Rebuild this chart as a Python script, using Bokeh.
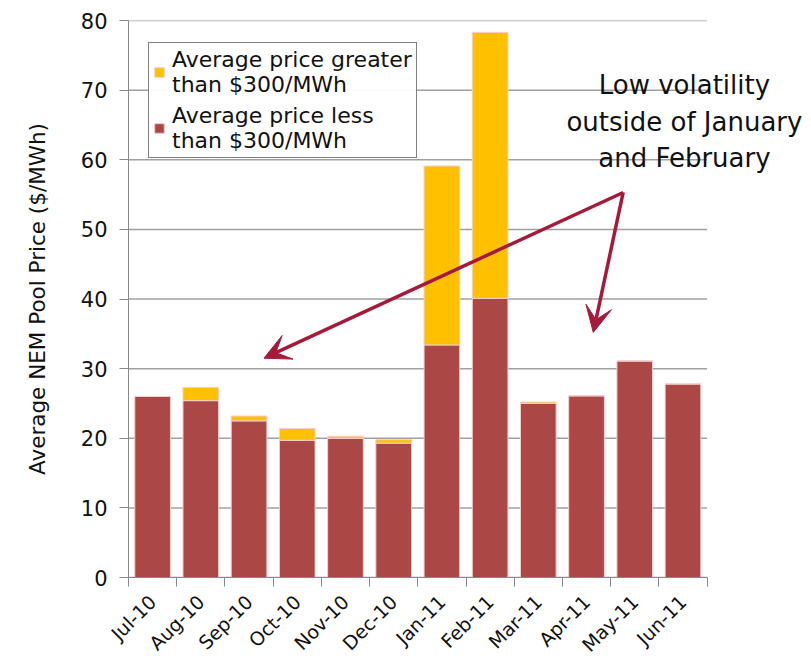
from bokeh.plotting import figure
from bokeh.models import (ColumnDataSource, Legend, LegendItem, Label, Arrow, VeeHead,
                          SingleIntervalTicker, Range1d, LinearAxis, FixedTicker)
from bokeh.embed import file_html
from bokeh.resources import INLINE

months = ["Jul-10", "Aug-10", "Sep-10", "Oct-10", "Nov-10", "Dec-10",
          "Jan-11", "Feb-11", "Mar-11", "Apr-11", "May-11", "Jun-11"]
below_300 = [26.0, 25.4, 22.5, 19.7, 20.0, 19.3, 33.4, 40.1, 25.0, 26.1, 31.1, 27.8]
above_300 = [0.0, 1.9, 0.7, 1.7, 0.3, 0.5, 25.7, 38.2, 0.2, 0.0, 0.0, 0.0]
y_ticks = [0, 10, 20, 30, 40, 50, 60, 70, 80]
spare_slots = 2  # empty room on the right that holds the annotation text

RED = "#AB4745"
YEL = "#FFC000"
ARROW = "#A51A3A"
FONT = "DejaVu Sans"
n = len(months)
centers = [i + 0.5 for i in range(n)]
bounds = list(range(n + 1))

src = ColumnDataSource(dict(pos=centers, below=below_300, above=above_300))

p = figure(x_range=Range1d(0, n + spare_slots), y_range=(0, 80),
           frame_width=675, frame_height=557, output_backend="svg", toolbar_location=None,
           min_border_left=128, min_border_top=20, min_border_right=0, min_border_bottom=80,
           x_axis_location=None)
p.outline_line_color = None

# horizontal gridlines limited to the category area
p.segment(x0=[0] * len(y_ticks), x1=[n] * len(y_ticks), y0=y_ticks, y1=y_ticks,
          line_color="#A0A0A0", line_width=1.5)

r = p.vbar_stack(["below", "above"], x="pos", width=0.74, source=src,
                 color=[RED, YEL], line_color="#F2D0D0", line_width=1)

legend = Legend(items=[LegendItem(label="Average price greater\nthan $300/MWh", renderers=[r[1]]),
                       LegendItem(label="Average price less\nthan $300/MWh", renderers=[r[0]])],
                location=(20, 419))
legend.label_text_font = FONT
legend.label_text_font_size = "22px"
legend.label_text_color = "#111111"
legend.label_text_line_height = 1.2
legend.border_line_color = "black"
legend.border_line_width = 1
legend.glyph_width = 12
legend.glyph_height = 12
legend.padding = 4
legend.spacing = 6
legend.margin = 0
legend.label_standoff = 7
p.add_layout(legend, "center")

p.yaxis.ticker = SingleIntervalTicker(interval=10)
p.yaxis.axis_label = "Average NEM Pool Price ($/MWh)"
p.yaxis.axis_label_text_font = FONT
p.yaxis.axis_label_text_font_style = "normal"
p.yaxis.axis_label_text_font_size = "21.5px"
p.yaxis.axis_label_text_color = "#111111"
p.yaxis.axis_label_standoff = 28
p.yaxis.major_label_text_font = FONT
p.yaxis.major_label_text_font_size = "21px"
p.yaxis.major_label_text_color = "#111111"
p.yaxis.major_label_standoff = 12
p.yaxis.axis_line_color = "#888888"
p.yaxis.major_tick_line_color = "#888888"
p.yaxis.major_tick_out = 9
p.yaxis.major_tick_in = 0
p.yaxis.minor_tick_line_color = None

# axis line with tick marks at the category boundaries
tick_axis = LinearAxis(ticker=FixedTicker(ticks=bounds), bounds=(0, n),
                       axis_line_color="#888888", major_tick_line_color="#888888",
                       major_tick_out=9, major_tick_in=0, minor_tick_line_color=None,
                       major_label_text_font_size="0px", major_label_standoff=0,
                       major_label_text_color=None)
# month labels at the category centres
label_axis = LinearAxis(ticker=FixedTicker(ticks=centers),
                        major_label_overrides={c: m for c, m in zip(centers, months)},
                        axis_line_color=None, major_tick_line_color=None, minor_tick_line_color=None,
                        major_label_orientation=0.785, major_label_text_font=FONT,
                        major_label_text_font_size="19px", major_label_text_color="#111111",
                        major_label_standoff=6)
p.add_layout(tick_axis, "below")
p.add_layout(label_axis, "below")

p.xgrid.grid_line_color = None
p.ygrid.grid_line_color = None

for txt, yv in [("Low volatility", 70.7), ("outside of January", 65.4), ("and February", 60.3)]:
    p.add_layout(Label(x=11.53, y=yv, text=txt, text_align="center", text_baseline="middle",
                       text_font=FONT, text_font_size="26px", text_color="#111111"))

for xe, ye in [(2.81, 31.5), (9.64, 35.2)]:
    p.add_layout(Arrow(x_start=10.26, y_start=55.3, x_end=xe, y_end=ye,
                       line_color=ARROW, line_width=3.5,
                       end=VeeHead(size=26, fill_color=ARROW, line_color=ARROW)))

open("out.html", "w").write(file_html(p, INLINE))
